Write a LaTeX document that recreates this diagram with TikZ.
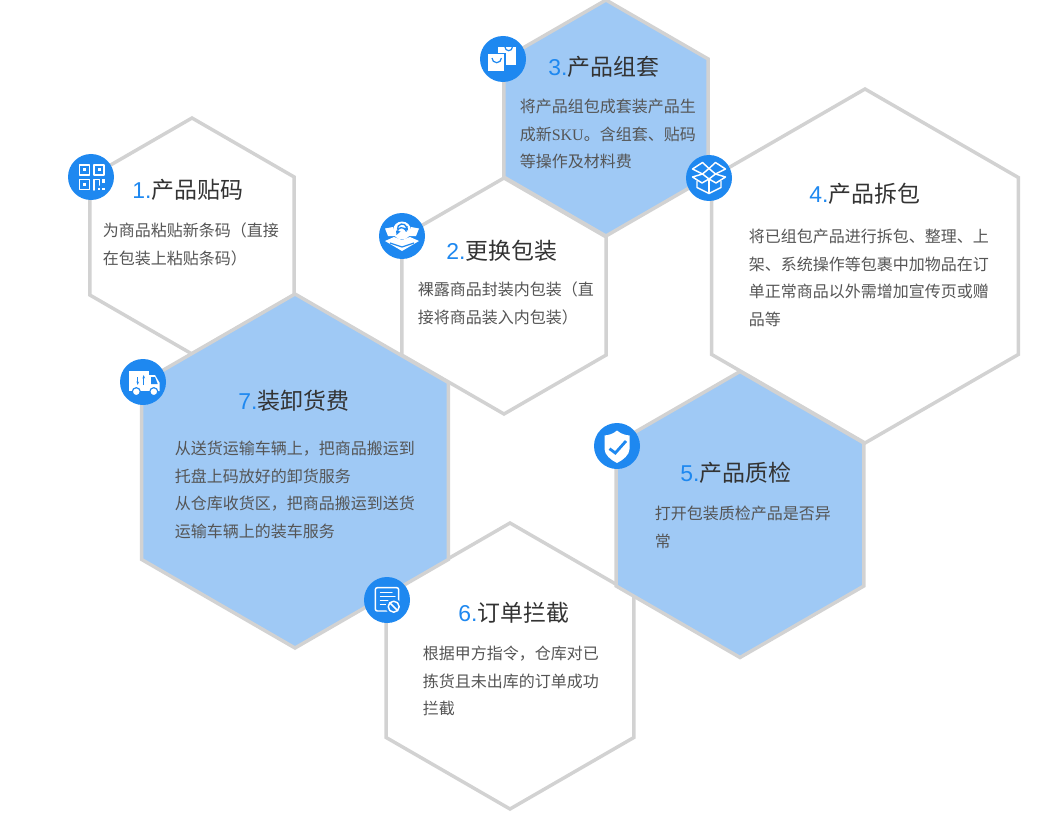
\documentclass[tikz,border=0pt]{standalone}
\usepackage{fontspec}
\usepackage{xcolor}
\usepackage{tikz}
\usetikzlibrary{shapes.geometric, arrows.meta}
\setmainfont{Noto Sans CJK SC}
\newfontfamily\numfont{Liberation Sans}
\newfontfamily\skufont{Liberation Serif}
\definecolor{cBlue}{RGB}{30,136,240}
\definecolor{cFill}{RGB}{159,201,245}
\definecolor{cEdge}{RGB}{210,210,210}
\definecolor{cTitle}{RGB}{51,51,51}
\definecolor{cBody}{RGB}{85,85,85}
\newcommand{\numtxt}[1]{{\numfont\color{cBlue}#1}}
\tikzset{
	hexcell/.style ={regular polygon, regular polygon sides=6, shape border rotate=30, minimum size=#1*1.5pt, inner sep=0pt, outer sep=0pt, draw=cEdge, line width=2.6pt, fill=white},
	hexblue/.style ={hexcell=#1, fill=cFill},
	titletext/.style={anchor=west, inner sep=0pt, text=cTitle, font=\fontsize{17.2}{20}\selectfont},
	bodytext/.style ={anchor=west, inner sep=0pt, align=left, text=cBody, font=\fontsize{12}{20.6}\selectfont},
	iconbg/.style   ={circle, minimum size=34.5pt, inner sep=0pt, fill=cBlue},
	iconline/.style ={draw=white, line width=1.1pt, line join=round, line cap=round},
	iconfill/.style ={fill=white},
}
\begin{document}
\begin{tikzpicture}[x=0.75pt, y=-0.75pt]
	\useasboundingbox (0,0) rectangle (1045,831);
	% cells
	\node[hexcell=118] (hex1) at (192,236) {};
	\node[hexcell=118] (hex2) at (504,296) {};
	\node[hexblue=118] (hex3) at (606,118) {};
	\node[hexcell=177] (hex4) at (865,266) {};
	\node[hexcell=143] (hex6) at (510,666) {};
	\node[hexblue=143] (hex5) at (740,514.5) {};
	\node[hexblue=177] (hex7) at (295,471) {};
	% titles
	\node[titletext] (title1) at (132,190) {\numtxt{1.}产品贴码};
	\node[titletext] (title2) at (446,251) {\numtxt{2.}更换包装};
	\node[titletext] (title3) at (548,67)  {\numtxt{3.}产品组套};
	\node[titletext] (title4) at (809,194) {\numtxt{4.}产品拆包};
	\node[titletext] (title5) at (680,473) {\numtxt{5.}产品质检};
	\node[titletext] (title6) at (458,613) {\numtxt{6.}订单拦截};
	\node[titletext] (title7) at (238,401) {\numtxt{7.}装卸货费};
	% texts
	\node[bodytext] (body1) at (102.5,244.5) {为商品粘贴新条码（直接\\在包装上粘贴条码）};
	\node[bodytext] (body2) at (417.5,303.5) {裸露商品封装内包装（直\\接将商品装入内包装）};
	\node[bodytext] (body3) at (519.5,134)   {将产品组包成套装产品生\\成新{\skufont SKU}。含组套、贴码\\等操作及材料费};
	\node[bodytext] (body4) at (748.5,278)   {将已组包产品进行拆包、整理、上\\架、系统操作等包裹中加物品在订\\单正常商品以外需增加宣传页或赠\\品等};
	\node[bodytext] (body5) at (654.5,527.5) {打开包装质检产品是否异\\常};
	\node[bodytext] (body6) at (422.5,681)   {根据甲方指令，仓库对已\\拣货且未出库的订单成功\\拦截};
	\node[bodytext] (body7) at (174.5,490)   {从送货运输车辆上，把商品搬运到\\托盘上码放好的卸货服务\\从仓库收货区，把商品搬运到送货\\运输车辆上的装车服务};
	% icon discs
	\node[iconbg] (icon1) at (91,177) {};
	\node[iconbg] (icon2) at (402,236) {};
	\node[iconbg] (icon3) at (503,59) {};
	\node[iconbg] (icon4) at (709,178) {};
	\node[iconbg] (icon5) at (617,446) {};
	\node[iconbg] (icon6) at (387,600) {};
	\node[iconbg] (icon7) at (143,382) {};
	% qr code
	\begin{scope}[shift={(icon1)}]
		\draw[iconline, line width=1.4pt] (-11.5,-12) rectangle (-1.5,-2);
		\draw[iconline, line width=1.4pt] (3,-12) rectangle (13,-2);
		\draw[iconline, line width=1.4pt] (-11.5,2.5) rectangle (-1.5,12.5);
		\fill[iconfill] (-8,-8.5) rectangle (-5,-5.5);
		\fill[iconfill] (6.5,-8.5) rectangle (9.5,-5.5);
		\fill[iconfill] (-8,6) rectangle (-5,9);
		\draw[iconline, line width=1.4pt] (3,13) -- (3,2.5) -- (8.5,2.5) -- (8.5,8);
		\fill[iconfill] (11,1.5) rectangle (14,6);
		\fill[iconfill] (6.5,10.5) rectangle (9,13);
		\fill[iconfill] (11,10.5) rectangle (14,13);
	\end{scope}
	% box and refresh
	\begin{scope}[shift={(icon2)}]
		\fill[iconfill] (-17,-7.5) -- (-9,-9) -- (-7,0) -- (-14,0) -- cycle;
		\fill[iconfill] (17,-7.5) -- (9,-9) -- (7,0) -- (14,0) -- cycle;
		\fill[iconfill] (-17,5) -- (-8,1) -- (0,4) -- (8,1) -- (17,5) -- (0,15) -- cycle;
		\fill[iconfill] (0,-5.5) circle (9);
		\draw[cBlue, line width=1pt] (-4.5,-6.5) arc (170:340:4.7);
		\draw[cBlue, line width=1pt] (4.5,-4.5) arc (-10:-160:4.7);
		\fill[cBlue] (5.5,-10) -- (6,-5.5) -- (1.5,-6.5) -- cycle;
		\fill[cBlue] (-5.5,-1) -- (-6,-5.5) -- (-1.5,-4.5) -- cycle;
		\draw[cBlue, line width=0.9pt] (-12,7) -- (0,11) -- (12,7);
	\end{scope}
	% bags
	\begin{scope}[shift={(icon3)}]
		\fill[iconfill] (-5,-12) rectangle (13,6);
		\fill[iconfill, draw=cBlue, line width=0.9pt] (-15.5,-5.5) rectangle (2,13);
		\draw[cBlue, line width=0.9pt] (-11,-1) arc (180:0:4.7);
		\draw[cBlue, line width=0.9pt] (2,-12) arc (180:0:3.7);
	\end{scope}
	% open box
	\begin{scope}[shift={(icon4)}]
		\draw[iconline] (-6.5,-15.5) -- (-16.5,-9) -- (-6.5,-4) -- (0,-9.5) -- cycle;
		\draw[iconline] (6.5,-15.5) -- (16.5,-9) -- (6.5,-4) -- (0,-9.5) -- cycle;
		\draw[iconline] (-6.5,-4) -- (-16.5,-1) -- (-7,5) -- (0,1) -- cycle;
		\draw[iconline] (6.5,-4) -- (16.5,-1) -- (7,5) -- (0,1) -- cycle;
		\draw[iconline] (-12,3) -- (-12,9.5) -- (0,15.5) -- (12,9.5) -- (12,3);
		\draw[iconline] (0,1) -- (0,15.5);
	\end{scope}
	% shield
	\begin{scope}[shift={(icon5)}]
		\fill[iconfill] (0,-15.5) .. controls (-4,-12) and (-8,-11) .. (-12.5,-10.5) -- (-12.5,3) .. controls (-12.5,9) and (-6,14) .. (0,17) .. controls (6,14) and (12.5,9) .. (12.5,3) -- (12.5,-10.5) .. controls (8,-11) and (4,-12) .. (0,-15.5) -- cycle;
		\draw[cBlue, line width=2.1pt] (-7.5,2.7) -- (-1.7,7) -- (9,-5);
	\end{scope}
	% cancelled list
	\begin{scope}[shift={(icon6)}]
		\draw[iconline, rounded corners=1.5pt] (-11.7,-12.3) rectangle (11.7,11);
		\draw[iconline] (-6.5,-7.5) -- (5,-7.5) (-6.5,-3.5) -- (8,-3.5) (-6.5,0.5) -- (1,0.5) (-6.5,4.5) -- (-1,4.5);
		\fill[cBlue] (6.7,6.7) circle (8);
		\draw[iconline] (6.7,6.7) circle (5.5);
		\draw[iconline] (2.9,2.9) -- (10.5,10.5);
	\end{scope}
	% truck
	\begin{scope}[shift={(icon7)}]
		\fill[iconfill] (-14.3,-11) rectangle (5.7,9);
		\fill[iconfill] (6,-7) -- (12,-7) -- (16.7,1) -- (16.7,9) -- (6,9) -- cycle;
		\fill[cBlue] (8,-5) -- (12,-5) -- (14.7,2) -- (8,2) -- cycle;
		\draw[cBlue, line width=0.9pt, -{Stealth[length=2.6pt]}] (-5.3,-5) -- (-5.3,3);
		\draw[cBlue, line width=0.9pt, -{Stealth[length=2.6pt]}] (0.7,3) -- (0.7,-7);
		\draw[cBlue, line width=0.9pt, fill=white] (-6.7,9.7) circle (4);
		\draw[cBlue, line width=0.9pt, fill=white] (10.8,9.7) circle (4);
	\end{scope}
\end{tikzpicture}
\end{document}
